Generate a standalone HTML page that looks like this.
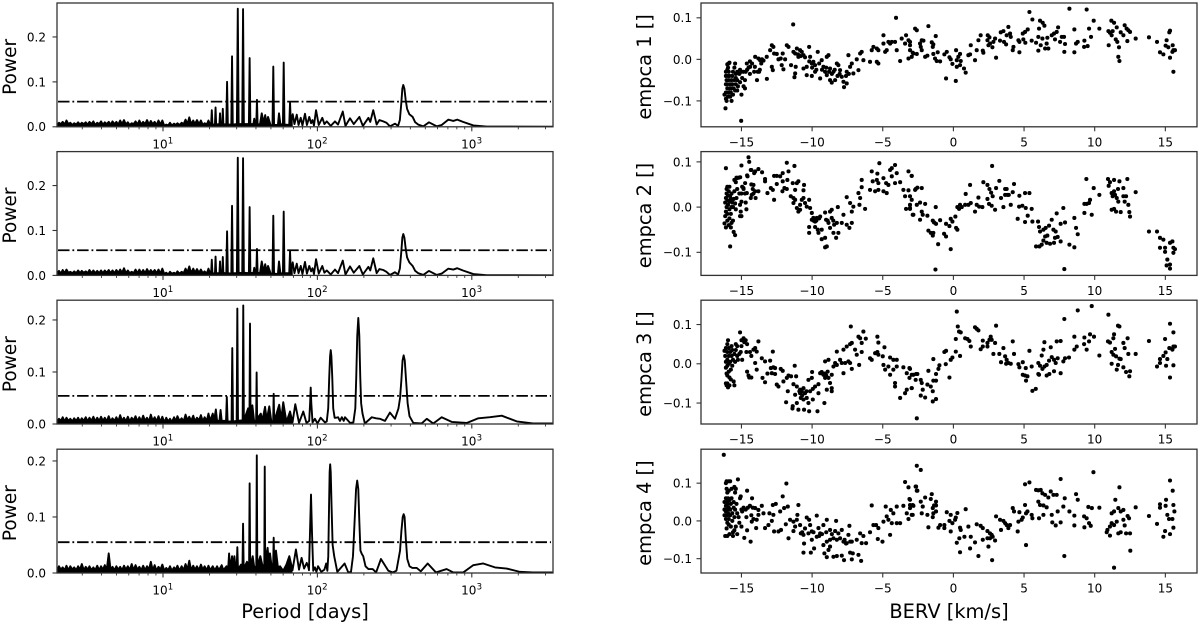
<!DOCTYPE html>
<html lang="en">
<head>
<meta charset="utf-8">
<title>Periodograms and BERV correlations of EMPCA components</title>
<style>
html,body{margin:0;padding:0;background:#fff;}
svg{display:block;filter:blur(.3px);}
text{font-family:"DejaVu Sans","Liberation Sans",sans-serif;fill:#000;}
</style>
</head>
<body>
<svg id="chart" xmlns="http://www.w3.org/2000/svg" width="1200" height="625" viewBox="0 0 1200 625"></svg>
<script>
const noisePeriods=[2.06,2.12,2.18,2.24,2.31,2.37,2.44,2.51,2.59,2.66,
2.74,2.82,2.9,2.98,3.07,3.16,3.25,3.34,3.44,3.54,
3.64,3.75,3.86,3.97,4.08,4.2,4.32,4.45,4.58,4.71,
4.85,4.99,5.13,5.28,5.43,5.59,5.75,5.92,6.09,6.27,
6.45,6.64,6.83,7.03,7.23,7.44,7.66,7.88,8.11,8.34,
8.58,8.83,9.09,9.35,9.62,9.9,10.2,10.5,10.8,11.1,
11.4,11.8,12.1,12.4,12.8,13.2,13.6,14,14.4,14.8,
15.2,15.7,16.1,16.6,17.1,17.6,18.1,18.6,19.2,19.7];
const noisePower1=[.005,.009,.006,.011,.005,.014,.006,.009,.004,.008,
.005,.01,.005,.009,.006,.01,.005,.011,.006,.012,
.004,.009,.006,.012,.005,.01,.006,.011,.005,.012,
.006,.011,.005,.014,.006,.015,.005,.01,.004,.008,
.006,.012,.005,.014,.005,.011,.006,.015,.005,.013,
.006,.011,.004,.014,.005,.014,.002,.005,.003,.009,
.003,.007,.004,.008,.004,.009,.006,.016,.006,.021,
.006,.014,.006,.015,.006,.014,.004,.008,.005,.014];
const noisePower2=[.006,.01,.004,.012,.005,.013,.006,.008,.005,.009,
.005,.011,.005,.01,.006,.009,.005,.012,.005,.011,
.005,.01,.005,.011,.005,.011,.006,.012,.005,.011,
.005,.012,.006,.013,.006,.016,.005,.011,.005,.008,
.005,.013,.005,.013,.005,.012,.005,.014,.006,.012,
.006,.012,.005,.013,.004,.015,.003,.006,.002,.008,
.004,.006,.003,.009,.004,.008,.005,.015,.007,.02,
.005,.015,.006,.014,.006,.013,.005,.009,.004,.015];
const noisePower3=[.005,.01,.006,.013,.005,.012,.006,.01,.005,.011,
.006,.012,.005,.011,.006,.013,.005,.012,.006,.014,
.005,.012,.006,.014,.006,.012,.005,.015,.005,.011,
.006,.013,.005,.017,.006,.012,.005,.014,.005,.012,
.007,.015,.005,.013,.005,.016,.006,.012,.005,.018,
.006,.013,.005,.015,.004,.014,.003,.012,.005,.01,
.004,.013,.005,.015,.006,.011,.005,.018,.007,.014,
.006,.016,.005,.012,.007,.017,.005,.013,.006,.02];
const noisePower4=[.005,.012,.006,.01,.005,.013,.005,.012,.006,.01,
.005,.012,.006,.016,.005,.011,.006,.012,.005,.01,
.005,.013,.005,.012,.006,.014,.005,.035,.005,.011,
.005,.012,.006,.011,.005,.013,.006,.012,.005,.016,
.005,.014,.006,.011,.005,.013,.005,.012,.006,.02,
.005,.014,.004,.011,.006,.015,.004,.009,.005,.012,
.004,.01,.006,.013,.004,.012,.005,.016,.006,.022,
.005,.013,.006,.012,.005,.015,.006,.012,.005,.013];

const spectrum1=[[20.2,.004],[20.5,.005],[20.7,.037],[20.9,.005],[21.7,.005],[21.9,.043],[22.1,.005],[23.2,.006],[23.4,.03],[23.6,.006],[24.2,.006],[24.4,.04],[24.6,.006],[25.7,.005],[26,.1],[26.3,.005],[27.7,.005],[28,.157],[28.3,.005],[30.1,.006],[30.5,.263],[30.9,.006],[32.6,.006],[33,.262],[33.4,.006],[36,.006],[36.4,.153],[36.8,.006],[38.5,.006],[39,.018],[39.5,.005],[40.2,.006],[40.6,.06],[41,.005],[42.5,.006],[43.6,.03],[44.9,.008],[45.9,.026],[47,.006],[47.9,.022],[49.8,.003],[51.2,.004],[51.8,.134],[52.4,.004],[55.5,.004],[56.4,.03],[57.6,.006],[59.8,.005],[60.5,.143],[61.2,.005],[65.7,.004],[66.5,.055],[67.3,.006],[69.2,.028],[71,.006],[73.5,.027],[75.5,.004],[78,.02],[80,.003],[83.1,.029],[85.5,.004],[88.6,.022],[91,.008],[93,.015],[95,.003],[98,.037],[102,.004],[107.6,.02],[111,.006],[115,.012],[122,.002],[130,.012],[136,.005],[146,.034],[152,.002],[162.6,.019],[172,.006],[187,.022],[197,.002],[214,.02],[220,.011],[230,.037],[242,.005],[252,.015],[267,.012],[280,.009],[295,.001],[318,.007],[333,.002],[342,.015],[349,.05],[355,.085],[360,.093],[366,.085],[373,.06],[381,.04],[394,.028],[414,.022],[430,.01],[449,.005],[485,.001],[528,.01],[593,.001],[638,.004],[705,.016],[759,.013],[805,.016],[877,.011],[1023,.003],[1247,.0005],[3360,.0003]];
const spectrum2=[[20.2,.005],[20.5,.004],[20.7,.035],[20.9,.005],[21.7,.004],[21.9,.042],[22.1,.005],[23.2,.005],[23.4,.031],[23.6,.006],[24.2,.005],[24.4,.041],[24.6,.006],[25.7,.004],[26,.098],[26.3,.005],[27.7,.004],[28,.155],[28.3,.005],[30.1,.005],[30.5,.262],[30.9,.006],[32.6,.005],[33,.261],[33.4,.006],[36,.005],[36.4,.152],[36.8,.006],[38.5,.005],[39,.017],[39.5,.006],[40.2,.005],[40.6,.059],[41,.006],[42.5,.005],[43.6,.031],[44.9,.007],[45.9,.025],[47,.007],[47.9,.021],[49.8,.004],[51.2,.003],[51.8,.133],[52.4,.004],[55.5,.003],[56.4,.031],[57.6,.005],[59.8,.004],[60.5,.142],[61.2,.005],[65.7,.005],[66.5,.054],[67.3,.005],[69.2,.029],[71,.005],[73.5,.026],[75.5,.005],[78,.021],[80,.003],[83.1,.03],[85.5,.004],[88.6,.021],[91,.009],[93,.016],[95,.003],[98,.036],[102,.004],[107.6,.021],[111,.006],[115,.011],[122,.002],[130,.013],[136,.005],[146,.033],[152,.002],[162.6,.02],[172,.006],[187,.021],[197,.002],[214,.019],[220,.011],[230,.038],[242,.005],[252,.014],[267,.012],[280,.008],[295,.001],[318,.007],[333,.002],[342,.015],[349,.05],[355,.084],[360,.092],[366,.084],[373,.06],[381,.04],[394,.029],[414,.021],[430,.01],[449,.005],[485,.001],[528,.01],[593,.001],[638,.004],[705,.015],[759,.013],[805,.016],[877,.011],[1023,.003],[1247,.0005],[3360,.0003]];
const spectrum3=[[20.2,.006],[21,.02],[21.4,.006],[22,.028],[22.4,.006],[23.2,.006],[23.6,.027],[24,.006],[25.6,.006],[25.9,.052],[26.2,.005],[27.8,.005],[28.1,.146],[28.4,.005],[30,.006],[30.3,.222],[30.6,.006],[32.8,.007],[33.1,.228],[33.4,.007],[35.6,.03],[36.3,.008],[36.6,.193],[36.9,.01],[37.9,.036],[38.9,.006],[40.1,.006],[40.4,.099],[40.7,.01],[43,.02],[44,.006],[45.8,.033],[47,.008],[48.8,.034],[50.3,.005],[51.7,.005],[52.1,.058],[52.5,.005],[56.6,.037],[58.3,.008],[60.1,.042],[63,.004],[66.5,.024],[69,.003],[71.9,.038],[76,.002],[81,.024],[85,.002],[88.5,.006],[89.7,.04],[90.5,.07],[91.3,.04],[93,.003],[96.4,.01],[100,.001],[105,.012],[112,.003],[115,.005],[117.5,.03],[119.3,.09],[120.8,.13],[122,.142],[123.2,.13],[124.8,.09],[126.6,.03],[129.3,.012],[132,.012],[136,.013],[140,.006],[144,.013],[148,.006],[151,.013],[163,.002],[171,.003],[176,.03],[178.5,.09],[181.2,.17],[184,.204],[186.8,.17],[189.5,.09],[192,.04],[196,.02],[203,.001],[225,.013],[240,.011],[254,.01],[274,.006],[295,.022],[318,.01],[335,.03],[343,.05],[350,.085],[356,.122],[362,.132],[368,.122],[375,.085],[384,.04],[395,.015],[418,.002],[473,.001],[511,.01],[563,.001],[638,.013],[741,.004],[927,.002],[1102,.011],[1312,.013],[1563,.016],[1954,.005],[2490,.001],[3360,.001]];
const spectrum4=[[20.2,.005],[21,.012],[21.7,.005],[22.4,.012],[23,.005],[24,.014],[24.6,.005],[25.8,.012],[26.4,.006],[26.8,.035],[27.2,.006],[28,.03],[28.5,.008],[29,.03],[29.6,.006],[30,.006],[30.3,.046],[30.6,.006],[32,.015],[32.7,.007],[33,.088],[33.3,.008],[35,.02],[36.1,.01],[36.4,.16],[36.7,.01],[38.1,.03],[39,.01],[40.2,.012],[40.5,.21],[40.8,.012],[42.7,.03],[44,.014],[45.3,.014],[45.6,.19],[45.9,.02],[47.6,.045],[48.4,.02],[49.3,.035],[50.5,.012],[51.7,.012],[52.1,.063],[52.5,.02],[53.9,.04],[55.5,.01],[57.3,.012],[60,.004],[63,.015],[65.8,.03],[69,.005],[72.6,.042],[76,.006],[79,.027],[82,.008],[85.3,.018],[87.5,.01],[88.2,.005],[89.5,.07],[90.9,.14],[92.3,.07],[94,.004],[96.4,.01],[98.5,.002],[101,.012],[106,.002],[111,.006],[114,.017],[116,.004],[117.6,.03],[119,.12],[120,.18],[121,.194],[122,.18],[123.5,.12],[125.5,.05],[128.5,.03],[134.6,.002],[150,.017],[158.5,.001],[165,.002],[170,.03],[174,.09],[178,.15],[181,.165],[184,.15],[187,.09],[190,.04],[194,.034],[198,.03],[205,.012],[214,.007],[228,.007],[240,.001],[258,.025],[288,.004],[307,.001],[325,.004],[343,.04],[350,.075],[357,.1],[362,.105],[367,.1],[374,.06],[382,.025],[395,.012],[412,.009],[440,.009],[467,.003],[518,.017],[586,.001],[687,.007],[759,.001],[881,.001],[1023,.014],[1186,.017],[1413,.01],[1683,.008],[2051,.002],[2490,.001],[3360,.001]];

const fapLevels=[.056,.056,.054,.055];
const powerTops=[.2756,.2756,.238,.221];
const powerTickLabels=[["0.0","0.1","0.2"],["0.0","0.1","0.2"],["0.0","0.1","0.2"],["0.0","0.1","0.2"]];
const powerTickValues=[0,.1,.2];
const periodDecades=[1,2,3];
const minorPeriods=[3,4,5,6,7,8,9,20,30,40,50,60,70,80,90,200,300,400,500,600,700,800,900,2000,3000];

const points1=[[-2.71,.074],[-2.59,.070],[-1.77,.080],[-1.25,.056],[-3.07,.042],[-2.24,.046],[-2.12,.045],[-2.36,.038],[-2.31,.030],[-2.24,.022],[-3.07,.022],[-2.88,.016],[-2.59,.013],[-2.95,.006],[-2.0,.006],[-1.84,.009],[-1.42,.013],[-1.53,.041],[-1.42,.036],[-1.46,.030],[-1.11,.017],[-1.3,.002],[-1.18,-.004],[-.94,-.005],[-.64,.012],[-.47,.018],[-.28,.005],[-.19,0],[-.07,-.011],[.19,.022],[.47,.013],[.35,.006],[.24,-.002],[.52,-.004],[.47,-.014],[.24,-.018],[.75,-.022],[.87,-.032],[-.52,-.046],[.17,-.052],[1.06,.010],[1.18,.012],[1.23,.034],[1.53,-.002],[1.65,.022],[1.77,.046],[1.93,.058],[2.08,.021],[2.12,.016],[2.43,.058],[2.55,.053],[2.41,.046],[2.59,.038],[2.48,.034],[2.76,.029],[2.83,.042],[2.95,.050],[3.02,.004],[3.35,.065],[3.54,.068],[3.3,.045],[3.58,.042],[3.73,.036],[3.89,.078],[3.77,.058],[4.01,.062],[4.06,.054],[4.25,.030],[4.2,.022],[4.67,.017],[4.6,.046],[4.67,.042],[4.91,.062],[5.07,.066],[5.26,.072],[4.95,.048],[5.09,.040],[5.38,.114],[5.59,.096],[5.54,.045],[6.01,.021],[5.85,.040],[6.18,.034],[6.06,.074],[6.13,.093],[6.32,.088],[6.44,.081],[6.01,.054],[6.3,.050],[6.6,.038],[6.49,.026],[6.72,.026],[6.65,.052],[6.96,.058],[7.12,.062],[7.31,.066],[7.41,.077],[7.19,.048],[7.55,.042],[7.67,.054],[7.83,.054],[7.9,.037],[7.85,.018],[8.21,.122],[8.56,.072],[8.56,.017],[8.68,.038],[8.8,.042],[9.27,.045],[9.25,.030],[9.5,.032],[9.43,.120],[9.6,.074],[9.74,.054],[9.93,.093],[10.33,.074],[10.99,.034],[10.97,.068],[11.08,.064],[11.2,.058],[11.27,.068],[11.18,.093],[11.37,.088],[11.56,.077],[11.49,.048],[11.6,.042],[11.72,.029],[11.67,.006],[11.75,-.004],[11.84,.065],[12.03,.058],[12.12,.082],[12.26,.074],[12.38,.070],[12.5,.066],[12.31,.044],[12.9,.050],[13.84,.053],[14.41,.042],[14.62,.017],[14.86,.012],[15.02,.033],[15.09,.046],[15.21,.029],[15.33,.004],[15.28,.065],[15.33,.069],[15.52,.034],[15.57,.022],[15.68,.022],[15.5,.018],[15.57,-.030],
[-15.02,-.148],[-11.34,.084],[-4.06,.100],[-16.13,-.118],
[-16.1,-.03],[-16.1,-.04],[-16.05,-.05],[-16.1,-.06],[-16.0,-.07],[-16.1,-.08],[-16.2,-.085],[-16.1,-.095],[-16.05,-.1],[-15.95,-.09],[-15.9,-.08],[-16.0,-.06],[-15.9,-.05],[-15.95,-.04],[-15.9,-.03],[-16.0,-.025],[-15.95,-.02],[-15.9,-.01],[-15.85,-.008],[-16.0,-.012],[-15.85,-.04],[-15.8,-.06],[-15.85,-.07],[-15.75,-.08],[-15.8,-.09],[-15.7,-.1],[-15.6,-.085],[-15.7,-.07],[-15.65,-.06],[-15.7,-.05],[-15.65,-.04],[-15.6,-.03],[-15.5,-.05],[-15.55,-.07],[-15.45,-.075],[-15.4,-.06],[-15.4,-.045],[-15.4,-.035],[-15.5,-.02],[-15.45,-.01],[-15.3,-.03],[-15.3,-.05],[-15.25,-.065],[-15.3,-.075],[-15.1,-.055],[-15.15,-.035],[-15.1,-.025],[-15.0,-.03],[-15.0,-.085],[-14.95,-.045],[-14.85,-.065],[-14.75,-.07],[-14.75,-.05],[-14.7,-.03],[-14.6,-.025],[-14.5,-.02],[-14.4,-.035],[-14.4,-.005],[-14.25,-.01],[-14.1,-.03],[-14.05,-.018],[-13.9,-.05],[-13.85,-.03],[-13.75,-.03],[-13.6,-.01],[-13.7,-.025],[-13.55,0],[-13.2,-.047],
[-14.86,-.030],[-14.62,-.010],[-14.39,-.018],[-14.03,.006],[-13.8,.002],[-13.68,-.002],[-13.44,-.003],[-13.21,.006],[-12.97,.022],[-12.85,.034],[-12.74,.030],[-12.69,.014],[-12.5,.013],[-12.85,-.018],[-12.78,-.026],[-12.38,0],[-12.22,.002],[-12.08,.014],[-11.91,0],[-12.15,-.014],[-12.03,-.024],[-11.79,.034],[-11.67,.030],[-11.49,-.014],[-11.32,.018],[-11.2,.014],[-11.08,.026],[-11.16,-.018],[-11.2,-.034],[-11.25,-.043],[-10.85,.022],[-10.73,.018],[-10.61,.010],[-10.97,.006],[-10.61,-.022],[-10.38,-.018],[-10.38,-.038],[-10.21,.030],[-10.14,.006],[-10.02,-.010],[-9.91,-.006],[-9.79,-.014],[-9.6,.018],[-9.79,-.030],[-10.02,-.040],[-9.43,-.046],[-9.32,-.002],[-9.2,-.018],[-8.96,.006],[-8.84,.010],[-9.08,-.030],[-8.96,-.038],[-8.73,-.022],[-8.73,-.050],[-8.49,-.030],[-8.25,-.010],[-8.14,-.014],[-8.37,-.050],[-8.61,-.056],[-8.02,-.026],[-7.9,-.042],[-7.78,-.054],[-7.55,-.030],[-7.43,.010],[-7.31,-.018],[-7.19,-.010],[-7.55,-.058],[-7.74,-.067],[-7.08,-.034],[-6.84,0],[-6.72,-.026],[-6.6,.014],[-6.49,.018],[-6.37,-.002],[-5.9,-.006],[-5.42,-.006],[-5.31,-.010],[-5.78,.022],[-5.66,.030],[-5.42,.026],[-5.31,.022],[-4.83,.018],[-4.72,.022],[-4.95,.038],[-4.95,.058],[-4.6,.042],[-4.48,.038],[-4.36,.042],[-4.13,.042],[-4.01,.022],[-3.66,.050],[-3.42,.038],[-3.35,.058],[-3.18,.046],[-3.07,.034],[-3.77,-.004],[-3.18,.002],[-2.83,.014],
[-9.5,-.01],[-9.3,-.025],[-9.0,-.02],[-8.8,-.03],[-8.6,-.035],[-8.4,-.025],[-8.2,-.04],[-8.05,-.035],[-7.6,-.04],[-7.4,-.035],[-10.2,-.005],[-10.5,.005],[-10.0,-.02],[-9.7,-.025],[-11.0,.012],[-10.8,.008]];

const points2=[[2.74,.091],[-2.95,.069],[-2.67,.040],[-2.55,.043],[-2.24,.042],[-3.07,.024],[-3.07,.005],[-3.07,-.004],[-2.88,-.017],[-2.59,.005],[-2.36,.010],[-2.0,.007],[-2.24,-.010],[-2.17,-.017],[-1.84,-.019],[-2.36,-.028],[-1.77,-.052],[-1.6,-.057],[-1.46,-.063],[-1.42,-.057],[-1.25,0],[-1.46,-.030],[-1.37,-.034],[-1.23,-.037],[-.94,-.029],[-1.08,-.082],[-1.27,-.138],[-.66,-.059],[-.52,-.065],[-.52,-.037],[-.28,-.042],[-.19,-.026],[-.07,-.032],[-.19,-.093],[.14,-.021],[.19,-.046],[.28,-.050],[.28,0],[.40,-.004],[.47,.005],[.59,0],[.83,.005],[1.06,.005],[1.23,.009],[.87,.029],[1.18,.049],[1.53,-.010],[1.65,.005],[1.82,.001],[2.05,0],[1.77,.021],[2.12,.055],[2.41,.049],[2.55,.040],[2.67,.032],[2.41,.018],[2.52,.007],[2.71,.003],[2.95,-.006],[2.78,.024],[3.02,.042],[3.25,.058],[3.37,.020],[3.54,0],[3.66,.040],[3.77,.040],[3.66,.027],[3.82,.027],[3.92,.027],[4.29,.051],[4.2,.033],[4.06,.005],[4.67,.025],[4.65,.001],[4.88,.003],[5.12,-.002],[5.07,.031],[5.38,.031],[5.54,-.004],[5.26,-.019],[4.55,-.026],[5.07,-.033],[5.59,-.032],[5.99,-.032],[6.06,-.044],[6.13,-.054],[6.37,-.050],[6.53,-.046],[6.77,-.041],[6.96,-.028],[7.08,-.050],[7.24,-.054],[7.31,-.014],[7.78,-.002],[7.59,-.037],[7.9,-.034],[5.85,-.087],[6.09,-.087],[6.25,-.083],[6.37,-.074],[6.49,-.065],[6.65,-.063],[6.6,-.079],[6.84,-.081],[7.12,-.079],[7.19,-.068],[7.38,-.066],[7.59,-.076],[7.85,-.137],[8.21,-.083],[8.56,-.089],[8.56,-.024],[8.68,-.046],[8.8,-.060],[9.27,-.013],[9.79,-.017],[9.27,.007],[9.43,.007],[9.6,.009],[9.67,.016],[9.41,.062],[9.93,.042],[10.33,.027],[10.94,.062],[11.37,.060],[11.75,.057],[12.31,.062],[11.08,.055],[10.99,.047],[11.65,.040],[12.03,.042],[11.37,.035],[11.2,.031],[11.44,.027],[11.27,.024],[11.56,.020],[12.03,.024],[12.22,.024],[11.67,.012],[12.12,.012],[12.38,.005],[11.2,-.006],[11.37,-.004],[11.51,-.010],[11.84,-.011],[12.45,-.011],[12.5,-.021],[12.9,.033],[13.84,-.054],[14.41,-.054],[14.62,-.068],[14.86,-.072],[14.62,-.090],[14.98,-.090],[14.98,-.099],[15.33,-.079],[15.5,-.076],[15.57,-.090],[15.68,-.093],[15.57,-.101],[15.14,-.116],[15.09,-.129],[15.33,-.127],[15.33,-.136],
[-15.8,-.087],[-16.1,.086],
[-16.2,-.036],[-16.1,-.045],[-16.15,-.02],[-16.1,-.01],[-16.05,0],[-16.15,.01],[-16.1,.02],[-16.05,.03],[-16.0,.045],[-16.05,.04],[-16.0,-.03],[-16.0,-.015],[-15.95,.005],[-16,.015],[-15.95,.025],[-15.9,.035],[-15.85,.045],[-15.9,-.04],[-15.85,-.025],[-15.85,-.005],[-15.85,.012],[-15.8,.025],[-15.75,-.045],[-15.7,-.035],[-15.75,-.015],[-15.7,0],[-15.75,.018],[-15.7,.03],[-15.65,.01],[-15.6,-.03],[-15.55,-.055],[-15.45,-.062],[-15.6,0],[-15.55,.018],[-15.5,.035],[-15.45,.008],[-15.4,-.005],[-15.35,.02],[-15.3,.04],[-15.4,.055],[-15.5,.06],[-15.35,.065],[-15.2,.065],[-15.15,.03],[-15.1,-.02],[-15.05,-.01],[-15.0,-.02],[-15.1,.005],[-15,.012],[-15,.03],[-14.95,.045],[-14.85,.04],[-14.75,.03],[-14.7,.01],[-14.65,-.005],[-15,.092],[-14.6,.07],[-14.5,.11],[-14.45,.10],[-14.3,.082],[-14.1,.075],[-14.3,.05],[-14.2,.04],[-14.15,.03],[-14,.02],
[-14.57,.068],[-14.34,.082],[-14.03,.079],[-13.8,.084],[-13.54,.077],[-13.33,.062],[-13.33,.057],[-13.16,.031],[-12.92,.042],[-12.78,.038],[-12.69,.016],[-12.69,.069],[-12.5,.069],[-12.26,.068],[-12.5,.051],[-12.08,.075],[-12.08,.057],[-12.1,.035],[-11.96,.042],[-11.79,.040],[-11.79,.098],[-11.75,.060],[-11.67,.079],[-11.25,.091],[-11.37,.053],[-11.08,.053],[-10.97,.057],[-11.2,.038],[-11.51,.024],[-11.32,.020],[-11.2,.016],[-11.32,.009],[-11.08,-.002],[-10.97,-.010],[-10.85,-.006],[-10.73,.016],[-10.61,.020],[-10.85,.005],[-10.5,.009],[-10.57,.049],[-10.61,.037],[-10.21,.016],[-10.38,.001],[-10.14,-.002],[-10.02,-.013],[-9.91,-.024],[-10.02,-.028],[-9.79,-.032],[-9.67,-.024],[-9.43,-.021],[-10.21,-.044],[-10.21,-.057],[-9.79,-.044],[-9.6,-.050],[-9.55,-.057],[-9.32,-.050],[-9.32,-.071],[-9.08,-.068],[-8.96,-.087],[-9.08,-.089],[-9.08,-.012],[-8.73,-.010],[-8.61,-.006],[-9.01,-.028],[-8.84,-.035],[-8.61,-.024],[-8.73,-.046],[-8.44,-.039],[-8.25,-.035],[-8.49,-.057],[-8.3,-.068],[-8.14,-.057],[-8.18,0],[-7.78,-.017],[-7.9,-.035],[-7.55,-.039],[-7.36,-.046],[-7.19,-.035],[-7.55,.022],[-7.31,.009],[-7.19,-.010],[-7.08,.001],[-6.65,.005],[-6.72,.031],[-6.49,.060],[-6.6,.020],[-6.49,.044],[-6.25,-.004],[-5.9,.038],[-5.78,.079],[-5.71,.057],[-5.38,.074],[-5.54,.035],[-5.31,.038],[-5.24,.097],[-5.42,.060],[-5.31,.053],[-4.95,.064],[-4.76,.053],[-4.6,.049],[-4.72,.031],[-4.95,.035],[-4.48,.082],[-4.36,.086],[-4.13,.093],[-4.36,.068],[-4.01,.075],[-4.13,.053],[-3.77,.055],[-3.54,.038],[-3.18,.079],[-2.95,.069],[-3.18,.037],[-2.71,.038],[-3.42,.024],[-2.95,.016],[-3.35,-.004],[-3.07,-.002],[-2.83,-.017],
[-15.33,.064],[-15.09,.066],[-14.74,.053],[-14.86,.042],[-14.62,.031],[-14.34,.020],[-14.15,.049],[-13.8,.035],[-14.27,.027],[-14.03,.035],[-9.9,-.03],[-9.7,-.03],[-9.5,-.025],[-8.9,-.03],[-8.5,-.03]];

const points3=[[.24,.133],[.31,.095],[.40,.082],[.52,.080],[.17,.063],[.17,.031],[.47,.020],[.83,.065],[1.0,.063],[1.13,.058],[1.23,.044],[1.53,.093],[1.65,.089],[1.77,.085],[3.02,.097],[2.08,.059],[2.64,.069],[1.93,.037],[2.08,.044],[2.41,.044],[2.41,.053],[2.55,.061],[2.71,.061],[2.95,.053],[2.83,.025],[3.25,.025],[3.54,.040],[3.66,.019],[3.77,.010],[3.37,.004],[3.73,0],[3.89,.002],[4.06,0],[4.2,.057],[4.29,.025],[4.6,-.001],[4.67,-.009],[4.91,.004],[5.12,-.011],[5.38,.033],[5.54,-.007],[4.91,-.028],[5.07,-.030],[5.24,-.032],[5.14,-.043],[5.59,-.069],[5.83,-.064],[6.01,.002],[6.13,-.005],[6.3,-.013],[6.44,-.007],[6.25,.021],[6.37,.036],[6.44,.055],[6.01,-.026],[6.06,-.028],[6.6,-.030],[6.79,-.026],[6.6,-.003],[6.77,.008],[6.96,.017],[7.12,.010],[6.89,.042],[7.12,-.019],[7.24,.002],[7.38,.014],[7.31,.057],[7.59,.058],[7.59,-.024],[7.85,.114],[7.78,.006],[7.9,.014],[8.18,.016],[8.56,.069],[8.56,.036],[8.73,.044],[8.8,.136],[9.27,.067],[9.25,.050],[9.43,.036],[9.6,.057],[9.67,.075],[9.95,.069],[9.79,.147],[10.33,.021],[10.97,.125],[10.94,.057],[11.08,.054],[11.32,.065],[11.37,.075],[11.65,.097],[11.75,.095],[11.2,.030],[11.44,.038],[11.32,.023],[11.51,.019],[11.75,.013],[11.84,.012],[11.2,0],[11.65,-.003],[11.56,-.015],[12.03,.053],[12.12,.040],[12.33,.065],[12.38,.025],[12.03,-.009],[12.22,-.021],[12.5,-.019],[12.45,-.032],[12.9,.025],[13.84,.058],[14.41,-.007],[14.62,.002],[14.62,.012],[14.86,.020],[15.02,.029],[15.14,.012],[14.98,.063],[15.05,-.005],[15.33,.102],[15.33,-.035],[15.28,.040],[15.5,.036],[15.57,.080],[15.57,.044],[15.68,.044],[15.5,.038],[15.57,-.004],
[-3.07,-.013],[-2.95,-.028],[-2.64,-.026],[-2.55,-.026],[-2.67,-.041],[-2.95,-.062],[-2.31,-.041],[-2.24,-.049],[-2.17,-.066],[-2.31,-.081],[-2.0,-.086],[-2.59,-.139],[-1.77,-.018],[-1.84,-.053],[-1.6,-.058],[-1.42,-.043],[-1.23,-.043],[-1.46,-.070],[-1.42,.012],[-1.46,-.096],[-1.23,-.090],[-1.23,-.026],[-.99,-.004],[-1.06,-.013],[-.64,.030],[-.52,.033],[-.54,-.001],[-.28,-.035],[-.19,.010],[-.07,.016],
[-16.2,.033],[-16.15,.02],[-16.1,.04],[-16.1,.005],[-16.1,-.01],[-16.05,-.025],[-16.1,-.05],[-16.05,-.055],[-16,.05],[-16,.03],[-16,.01],[-16,-.005],[-16,-.03],[-16,-.05],[-15.95,-.06],[-15.95,.06],[-15.9,.04],[-15.9,.02],[-15.9,0],[-15.9,-.02],[-15.85,-.035],[-15.85,-.055],[-15.8,.03],[-15.8,.005],[-15.75,-.015],[-15.75,-.04],[-15.7,.045],[-15.7,.02],[-15.65,.035],[-15.65,-.005],[-15.6,.01],[-15.55,-.045],[-15.5,-.055],[-15.5,.025],[-15.45,.005],[-15.4,.035],[-15.4,.05],[-15.3,.02],[-15.3,.045],[-15.25,.01],[-15.15,.025],[-15.1,.08],[-15.05,.03],[-15,.045],[-15,.06],[-14.95,.01],[-14.85,.065],[-14.8,.055],[-14.7,.06],[-14.65,.03],[-14.6,.05],[-14.6,-.02],[-14.5,-.03],[-14.45,-.035],[-14.4,.03],[-14.3,-.035],[-14.3,.02],
[-14.15,.036],[-14.03,.040],[-13.92,.031],[-13.8,.057],[-14.03,.002],[-13.92,-.015],[-13.56,.014],[-13.33,.006],[-12.97,.008],[-13.51,-.036],[-13.33,-.047],[-13.16,-.025],[-12.92,-.011],[-12.74,-.009],[-12.62,-.011],[-12.85,-.024],[-12.62,-.026],[-12.78,.031],[-12.5,-.053],[-12.38,-.058],[-12.22,-.013],[-12.08,-.018],[-12.03,-.045],[-11.79,-.036],[-11.67,-.030],[-11.72,-.070],[-11.49,-.032],[-11.13,-.032],[-11.23,-.005],[-11.32,-.052],[-11.08,-.058],[-10.85,-.066],[-11.2,-.079],[-10.85,-.075],[-11.08,-.100],[-11.84,-.098],[-11.37,-.108],[-11.39,-.114],[-10.97,-.117],[-10.57,-.117],[-10.21,-.121],[-9.62,-.121],[-9.13,-.100],[-10.61,-.062],[-10.73,-.070],[-10.5,-.075],[-10.38,-.087],[-10.61,-.091],[-10.8,-.087],[-10.26,-.100],[-9.95,-.091],[-10.14,-.070],[-9.95,-.064],[-9.79,-.058],[-9.55,-.052],[-9.55,-.075],[-10.26,-.041],[-10.02,-.036],[-10,-.021],[-9.43,-.024],[-9.32,-.021],[-9.2,-.028],[-9.08,-.036],[-8.84,-.036],[-8.61,-.028],[-9.08,.006],[-8.84,.010],[-8.96,-.066],[-8.61,-.062],[-8.61,-.070],[-8.73,-.049],[-8.49,-.007],[-8.37,.002],[-8.25,-.003],[-8.25,.031],[-7.78,-.024],[-8.02,.010],[-7.78,.036],[-7.9,.002],[-7.66,.002],[-7.43,.006],[-7.31,.002],[-7.55,.044],[-7.31,.050],[-7.19,.053],[-7.26,.095],[-7.19,-.013],[-6.96,.036],[-6.84,.023],[-6.67,-.003],[-6.49,.030],[-6.72,.069],[-6.6,.065],[-6.49,.053],[-6.37,.082],[-6.2,.064],[-5.9,.014],[-5.78,.010],[-5.54,.027],[-5.38,.030],[-5.31,.023],[-5.0,.019],[-5.38,.069],[-5.31,.054],[-4.88,.042],[-4.48,.016],[-4.25,.010],[-4.01,.010],[-4.95,-.003],[-4.83,-.015],[-4.6,-.007],[-4.48,-.028],[-4.25,-.015],[-4.01,-.007],[-4.13,-.049],[-4.13,-.058],[-3.77,-.087],[-3.42,-.075],[-3.3,-.066],[-3.54,-.009],[-3.11,-.011],[-3.3,-.024],[-3.11,-.036],[-2.95,-.062],[-2.83,-.028],[-10.7,-.08],[-10.9,-.07],[-10.4,-.07],[-9.1,-.025],[-9.0,-.03],[-8.9,-.02]];

const points4=[[-2.59,.146],[-2.31,.135],[-2.64,.091],[-2.55,.080],[-3.07,.056],[-2.88,.042],[-3.07,.034],[-2.88,.016],[-2.31,.051],[-2.17,.038],[-2.0,.062],[-2.24,.020],[-1.84,.016],[-1.53,.071],[-1.6,.058],[-1.23,.051],[-1.37,.041],[-1.46,.034],[-1.23,.041],[-1.42,.020],[-1.46,.010],[-1.23,.025],[-1.77,-.017],[-1.06,-.018],[-.94,-.011],[-.64,-.011],[-.64,-.019],[-.47,.023],[-.19,.016],[-.28,0],[-.07,-.006],[.12,.003],[.17,.009],[.28,.021],[-.19,-.028],[.87,.031],[.47,-.018],[.52,-.024],[1.06,-.015],[.78,-.042],[1.23,-.042],[.42,-.046],[.24,-.058],[.47,-.083],[1.53,-.057],[1.18,-.073],[1.77,-.093],[1.65,-.009],[1.93,-.013],[2.08,-.019],[2.41,-.027],[2.59,-.033],[2.71,-.037],[2.08,-.050],[2.41,-.046],[2.59,-.046],[2.78,-.042],[2.95,-.052],[2.48,-.068],[2.74,-.104],[3.02,.012],[3.3,.003],[3.54,0],[3.66,-.006],[3.77,-.011],[4.01,-.011],[3.89,-.019],[3.37,-.024],[4.2,.034],[4.29,.025],[4.67,.023],[4.6,-.002],[4.83,.003],[4.91,.009],[4.55,-.028],[5.07,.042],[5.24,.025],[5.14,.020],[5.14,-.064],[5.07,.097],[5.38,.102],[5.54,.016],[5.59,.007],[5.85,.082],[6.01,.081],[6.18,.082],[6.3,.073],[6.49,.069],[6.72,.062],[6.89,.078],[7.08,.069],[7.31,.069],[6.01,.051],[6.13,.042],[6.37,.041],[6.6,.036],[6.06,.007],[6.37,.016],[6.96,.016],[7.38,.025],[7.78,.038],[7.0,-.004],[7.24,-.012],[7.59,-.004],[7.59,.111],[7.88,.060],[7.85,-.093],[8.21,.025],[8.56,.014],[8.56,-.012],[8.68,.071],[8.8,.056],[9.25,.012],[9.43,.007],[9.27,-.017],[9.6,-.006],[9.72,-.013],[9.55,.037],[9.8,.034],[9.91,.129],[10.33,.035],[10.9,-.024],[10.85,-.030],[11.08,-.039],[11.08,-.015],[11.2,-.006],[11.37,-.011],[11.56,-.002],[11.2,.020],[11.37,.025],[11.67,.034],[11.84,.025],[11.75,.089],[11.46,.056],[11.37,-.124],[11.67,-.033],[11.84,-.030],[12.03,.029],[12.03,.003],[12.12,-.012],[12.22,-.033],[12.5,-.033],[12.33,.013],[12.43,.007],[12.52,-.079],[12.9,.036],[13.84,.013],[14.41,-.008],[14.62,.044],[14.62,.035],[14.86,-.042],[14.98,-.027],[15.05,.056],[15.02,.040],[15.14,.016],[15.26,.005],[15.5,.005],[15.33,-.035],[15.33,.107],[15.52,.080],[15.57,.042],[15.64,.025],[15.57,-.018],
[-16.25,.175],[-16.2,.05],[-16.2,.03],[-16.2,.015],[-16.15,-.04],[-16.1,.1],[-16.1,.06],[-16.1,.04],[-16.1,.025],[-16.1,.005],[-16.05,.105],[-16.05,.085],[-16.05,.05],[-16.05,-.02],[-16,-.04],[-16,.075],[-16,.03],[-16,.015],[-16,-.005],[-15.95,.06],[-15.95,.045],[-15.95,.02],[-15.9,.105],[-15.9,.08],[-15.9,.035],[-15.9,.005],[-15.9,-.01],[-15.85,.055],[-15.85,-.035],[-15.8,.105],[-15.8,.03],[-15.8,.015],[-15.75,.045],[-15.75,-.015],[-15.7,.085],[-15.7,.06],[-15.65,.02],[-15.65,0],[-15.6,-.03],[-15.6,-.04],[-15.55,.05],[-15.55,.035],[-15.5,.09],[-15.5,.01],[-15.5,-.025],[-15.45,.075],[-15.45,.03],[-15.4,.085],[-15.4,-.015],[-15.35,.045],[-15.3,.02],[-15.3,-.035],[-15.25,.11],[-15.2,.01],[-15.15,-.005],[-15.1,.06],[-15.05,.065],[-15,.03],[-15,-.015],[-14.95,.025],[-14.85,.035],[-14.8,-.045],[-14.7,.03],[-14.65,.01],[-14.6,-.025],[-14.6,.08],[-14.55,.035],[-14.4,.04],[-14.35,-.055],[-14.3,.015],[-14.25,.06],[-14.2,.035],
[-14.27,-.002],[-14.15,.005],[-13.92,.003],[-13.96,-.019],[-14.03,.034],[-13.8,.029],[-13.56,.040],[-13.8,.016],[-13.44,.020],[-13.33,-.019],[-13.02,.020],[-13.09,-.011],[-12.85,0],[-12.69,-.028],[-12.74,.016],[-12.78,.042],[-12.57,.045],[-12.38,-.028],[-12.2,-.024],[-12.26,.025],[-11.98,.034],[-12.08,.065],[-11.72,.038],[-11.86,-.009],[-11.82,.099],[-11.67,-.046],[-11.56,.003],[-11.32,-.002],[-11.32,-.027],[-11.2,-.015],[-11.08,.003],[-10.97,.042],[-11.04,.016],[-10.85,-.011],[-10.8,-.033],[-10.61,-.037],[-10.57,-.060],[-10.61,-.084],[-10.38,.009],[-10.21,.003],[-10.14,-.011],[-10.26,-.033],[-10.02,-.028],[-10.02,-.050],[-10.09,-.084],[-9.86,-.073],[-9.67,.014],[-9.55,-.019],[-9.43,-.033],[-9.67,-.042],[-9.2,-.011],[-8.96,.003],[-9.2,-.064],[-8.96,-.055],[-8.73,-.050],[-8.49,-.046],[-9.13,-.086],[-8.96,-.096],[-8.73,-.068],[-8.84,-.077],[-8.73,-.024],[-8.37,-.027],[-8.14,-.033],[-8.3,0],[-7.9,-.024],[-8.49,-.095],[-8.25,-.093],[-7.9,-.092],[-8.25,-.050],[-8.02,-.046],[-7.78,-.055],[-7.55,-.059],[-7.74,-.104],[-7.19,-.102],[-7.31,-.084],[-7.12,-.086],[-7.36,-.013],[-7.43,-.037],[-7.19,-.055],[-6.84,-.050],[-6.6,-.033],[-6.72,-.090],[-6.53,-.106],[-6.49,-.059],[-6.18,-.059],[-6.37,-.040],[-5.78,.041],[-5.9,-.030],[-5.66,-.011],[-5.47,-.011],[-5.31,-.019],[-5.35,-.048],[-5.02,-.055],[-4.79,.038],[-4.72,.012],[-4.95,-.002],[-4.6,.003],[-4.48,-.037],[-4.43,.029],[-4.25,.020],[-4.01,.038],[-4.36,-.006],[-4.01,-.006],[-3.77,-.006],[-3.54,.040],[-3.3,.020],[-3.18,.005],[-2.95,.016],[-3.42,.103],[-3.18,.089],[-2.67,.091],[-2.59,.080],[-3.11,.058],[-3.07,.042],[-2.83,.040],[-9.9,-.03],[-9.5,-.04],[-9.3,-.035],[-9.0,-.03],[-8.6,-.035],[-7.7,-.05],[-7.6,-.06],[-7.3,-.055],[-10.7,-.03],[-10.5,-.02]];

const bervTicks=[-15,-10,-5,0,5,10,15];
const bervTickLabels=["\u221215","\u221210","\u22125","0","5","10","15"];
const pcaTicks=[-.1,0,.1];
const pcaTickLabels=["\u22120.1","0.0","0.1"];
const pcaLabels=["empca 1 []","empca 2 []","empca 3 []","empca 4 []"];
const pcaLimits=[[-.1624,.1357],[-.151,.1227],[-.1534,.162],[-.138,.19]];

const NS='http://www.w3.org/2000/svg';
const svg=document.getElementById('chart');
const tops=[3,151.6,300.2,449.2];
const H=123.8;
const L0=57,L1=553,R0=701,R1=1197;
const FRAME='#333';
const DENSE_LIMIT=70;

function xPeriod(p){return 163+(Math.log10(p)-1)*154.4;}
function yPower(i,v){return tops[i]+H-v/powerTops[i]*H;}
function xBerv(b){return 953.4+b*14.13;}
function yPca(i,v){const l=pcaLimits[i];return tops[i]+H-(v-l[0])/(l[1]-l[0])*H;}
function mk(tag,parent){const e=document.createElementNS(NS,tag);parent.appendChild(e);return e;}
function seg(parent,x1,y1,x2,y2,w,c){const l=mk('line',parent);l.setAttribute('x1',x1);l.setAttribute('y1',y1);l.setAttribute('x2',x2);l.setAttribute('y2',y2);l.setAttribute('stroke',c);l.setAttribute('stroke-width',w);return l;}
function label(parent,x,y,str,size,anchor){const t=mk('text',parent);t.setAttribute('x',x);t.setAttribute('y',y);t.setAttribute('font-size',size);t.setAttribute('text-anchor',anchor);t.textContent=str;return t;}

const spectra=[spectrum1,spectrum2,spectrum3,spectrum4];
const noises=[noisePower1,noisePower2,noisePower3,noisePower4];
const scatters=[points1,points2,points3,points4];
const defs=mk('defs',svg);

for(let i=0;i<4;i++){
  const T=tops[i],B=T+H;
  const cp=mk('clipPath',defs);
  cp.setAttribute('id','clipL'+i);
  const cr=mk('rect',cp);
  cr.setAttribute('x',L0);cr.setAttribute('y',T);cr.setAttribute('width',L1-L0);cr.setAttribute('height',H);

  const g=mk('g',svg);
  
  

  const pts=noisePeriods.map((p,k)=>[p,noises[i][k]||0]).concat(spectra[i]);
  const dense=pts.filter(q=>q[0]<=DENSE_LIMIT);
  const under=mk('polygon',g);
  
  
  under.setAttribute('points',dense.map(q=>xPeriod(q[0]).toFixed(2)+','+yPower(i,q[1]).toFixed(2)).join(' ')+' '+xPeriod(dense[dense.length-1][0]).toFixed(2)+','+B+' '+xPeriod(dense[0][0]).toFixed(2)+','+B);
  under.setAttribute('fill','#000');
  under.setAttribute('clip-path','url(#clipL'+i+')');

  const d=pts.map(q=>xPeriod(q[0]).toFixed(2)+','+yPower(i,q[1]).toFixed(2)).join(' ');
  const line=mk('polyline',g);
  
  
  line.setAttribute('points',d);
  line.setAttribute('fill','none');
  line.setAttribute('stroke','#000');
  line.setAttribute('stroke-width','1.9');
  line.setAttribute('stroke-linejoin','round');
  line.setAttribute('clip-path','url(#clipL'+i+')');

  const fy=yPower(i,fapLevels[i]);
  const fap=seg(g,L0+1,fy,L1-2,fy,1.8,'#000');
  fap.setAttribute('stroke-dasharray','11.5 2.9 1.8 2.9');
  
  

  const frame=mk('rect',g);
  frame.setAttribute('x',L0);frame.setAttribute('y',T);frame.setAttribute('width',L1-L0);frame.setAttribute('height',H);
  frame.setAttribute('fill','none');frame.setAttribute('stroke',FRAME);frame.setAttribute('stroke-width','1.3');
  
  

  powerTickValues.forEach((v,k)=>{
    const y=yPower(i,v);
    const tk=seg(g,L0-4.5,y,L0,y,1.1,FRAME);
    
    
    const tl=label(g,46,y+4.4,powerTickLabels[i][k],12,'end');
    
    
  });
  periodDecades.forEach(e=>{
    const x=xPeriod(Math.pow(10,e));
    const tk=seg(g,x,B,x,B+4.5,1.1,FRAME);
    
    
    const tl=label(g,x-3,B+21.5,'10',12,'middle');
    
    
    const ex=label(g,x+7.5,B+16.5,String(e),8.6,'middle');
    
    
  });
  minorPeriods.forEach(p=>{
    const x=xPeriod(p);
    const tk=seg(g,x,B,x,B+2.5,.9,FRAME);
    
    
  });
  const yl=label(g,0,0,'Power',18.5,'middle');
  yl.setAttribute('transform','translate(16,'+(T+H/2+2)+') rotate(-90)');
  
  

  const g2=mk('g',svg);
  
  
  scatters[i].forEach(q=>{
    const c=mk('circle',g2);
    c.setAttribute('cx',xBerv(q[0]).toFixed(2));
    c.setAttribute('cy',yPca(i,q[1]).toFixed(2));
    c.setAttribute('r','2.05');
    c.setAttribute('fill','#000');
    
    
  });
  const frame2=mk('rect',g2);
  frame2.setAttribute('x',R0);frame2.setAttribute('y',T);frame2.setAttribute('width',R1-R0);frame2.setAttribute('height',H);
  frame2.setAttribute('fill','none');frame2.setAttribute('stroke',FRAME);frame2.setAttribute('stroke-width','1.3');
  
  
  pcaTicks.forEach((v,k)=>{
    const y=yPca(i,v);
    const tk=seg(g2,R0-4.5,y,R0,y,1.1,FRAME);
    
    
    const tl=label(g2,692,y+4.4,pcaTickLabels[k],12,'end');
    
    
  });
  bervTicks.forEach((v,k)=>{
    const x=xBerv(v);
    const tk=seg(g2,x,B,x,B+4.5,1.1,FRAME);
    
    
    const tl=label(g2,x,B+19.5,bervTickLabels[k],12,'middle');
    
    
  });
  const yr=label(g2,0,0,pcaLabels[i],19.4,'middle');
  yr.setAttribute('transform','translate(651,'+(T+H/2+2)+') rotate(-90)');
  
  
}
const xl=label(svg,305,618,'Period [days]',19.4,'middle');


const xr=label(svg,949,618,'BERV [km/s]',19.4,'middle');


</script>
</body>
</html>
